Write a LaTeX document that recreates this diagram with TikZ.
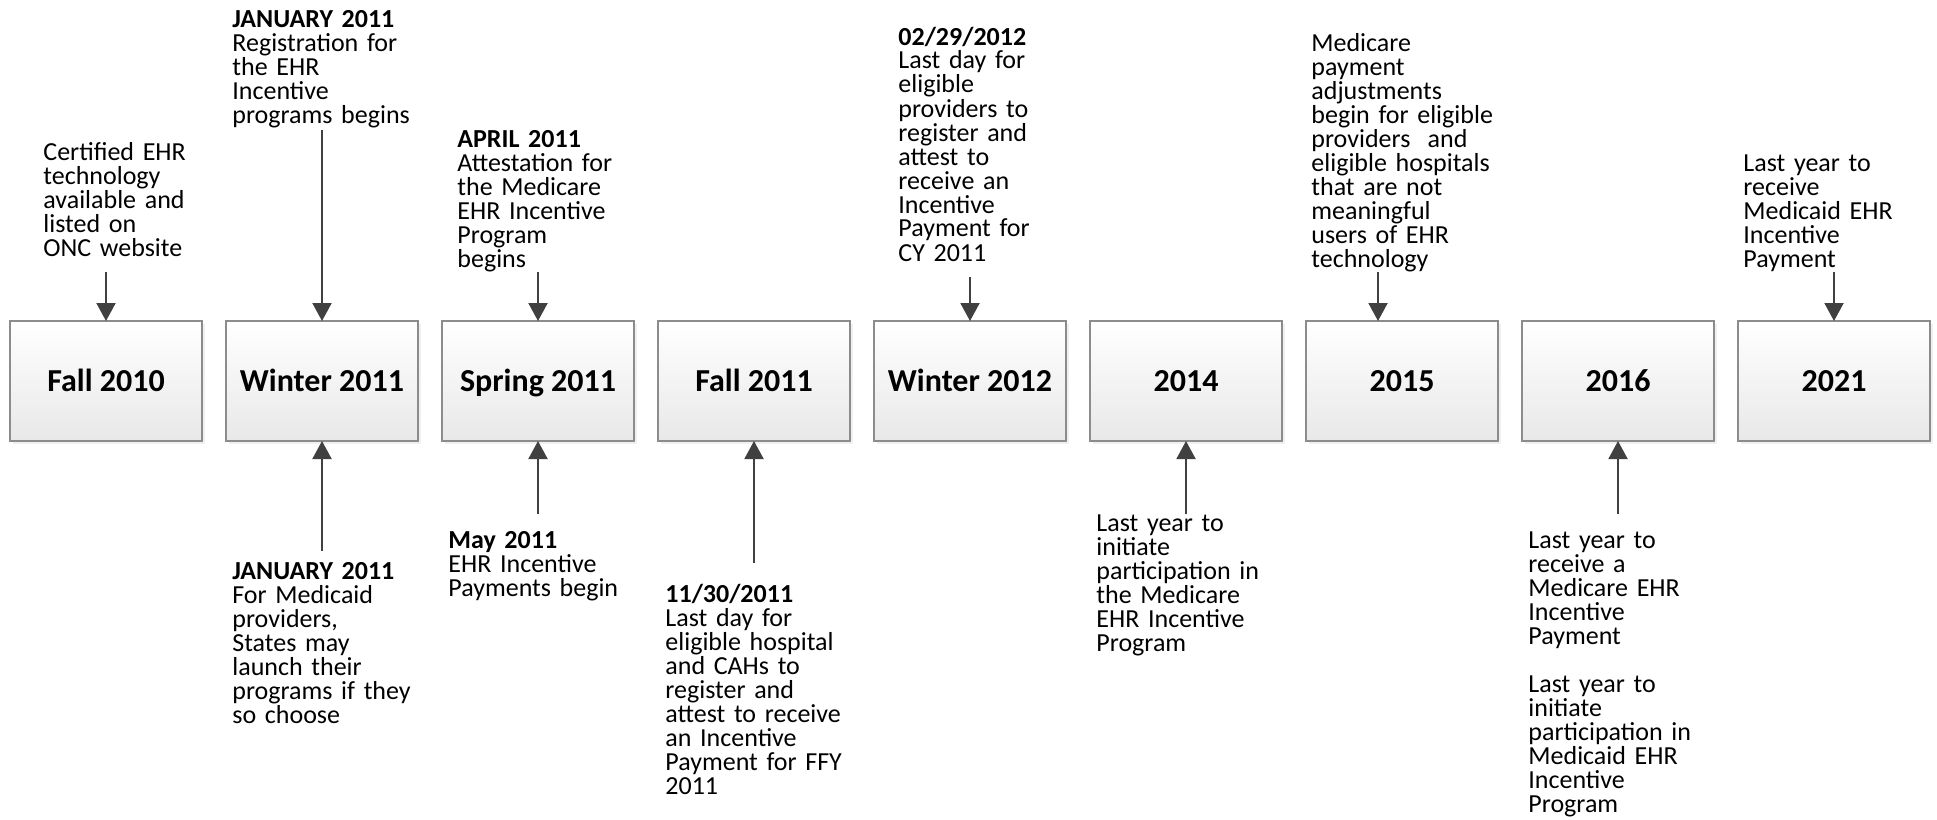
\documentclass[tikz,border=0pt]{standalone}
\usepackage{fontspec}
\setmainfont{Carlito}
\usepackage{tikz}
\usetikzlibrary{positioning,arrows.meta,shadows}
\definecolor{arrowgray}{HTML}{404040}
\definecolor{boxline}{HTML}{8C8C8C}
\newcommand\notefont{\fontsize{13}{12}\selectfont}

\begin{document}
\begin{tikzpicture}[x=0.5pt, y=-0.5pt,
						box/.style={rectangle, draw=boxline, line width=0.8pt, top color=white, bottom color=black!9,
							minimum width=96pt, minimum height=60pt, inner sep=0pt, outer sep=0pt,
							text height=10.3pt, text depth=0pt,
							font=\fontsize{16}{19}\selectfont\bfseries,
							drop shadow={shadow xshift=1.5pt, shadow yshift=-1.5pt, opacity=0.12}},
						note/.style={anchor=base west, inner sep=0pt, text width=110pt, align=left, font=\notefont},
						arr/.style={draw=arrowgray, line width=1pt, -{Triangle[width=9.5pt, length=9pt]}, fill=arrowgray}
					]
					\useasboundingbox (0,0) rectangle (1937,819);
					\node[box] (f10) at (106,381) {Fall 2010};
					\node[box] (w11) [right=12pt of f10] {Winter 2011};
					\node[box] (s11) [right=12pt of w11] {Spring 2011};
					\node[box] (f11) [right=12pt of s11] {Fall 2011};
					\node[box] (w12) [right=12pt of f11] {Winter 2012};
					\node[box] (y14) [right=12pt of w12] {2014};
					\node[box] (y15) [right=12pt of y14] {2015};
					\node[box] (y16) [right=12pt of y15] {2016};
					\node[box] (y21) [right=12pt of y16] {2021};
					% notes above the boxes
					\node[note] (cert) at (43,160) {Certified EHR\\technology\\available and\\listed on\\ONC website};
					\node[note] (reg) at (232,27) {\textbf{JANUARY 2011}\\Registration for\\the EHR\\Incentive\\programs begins};
					\node[note] (att) at (457,147) {\textbf{APRIL 2011}\\Attestation for\\the Medicare\\EHR Incentive\\Program\\begins};
					\node[note] (cy) at (898,45) {\textbf{02/29/2012}\\Last day for\\eligible\\providers to\\register and\\attest to\\receive an\\Incentive\\Payment for\\CY 2011};
					\node[note] (adj) at (1311,51) {Medicare\\payment\\adjustments\\begin for eligible\\providers\ \ and\\eligible hospitals\\that are not\\meaningful\\users of EHR\\technology};
					\node[note] (mcd) at (1743,171) {Last year to\\receive\\Medicaid EHR\\Incentive\\Payment};
					% notes below the boxes
					\node[note] (states) at (232,579) {\textbf{JANUARY 2011}\\For Medicaid\\providers,\\States may\\launch their\\programs if they\\so choose};
					\node[note] (pay) at (448,548) {\textbf{May 2011}\\EHR Incentive\\Payments begin};
					\node[note] (ffy) at (665,602) {\textbf{11/30/2011}\\Last day for\\eligible hospital\\and CAHs to\\register and\\attest to receive\\an Incentive\\Payment for FFY\\2011};
					\node[note] (init) at (1096,531) {Last year to\\initiate\\participation in\\the Medicare\\EHR Incentive\\Program};
					\node[note] (last) at (1528,548) {Last year to\\receive a\\Medicare EHR\\Incentive\\Payment\\[12pt]Last year to\\initiate\\participation in\\Medicaid EHR\\Incentive\\Program};
					% arrow starts
					\coordinate (a1) at (106,272);
					\coordinate (a2) at (322,130);
					\coordinate (a3) at (538,272);
					\coordinate (a4) at (970,277);
					\coordinate (a5) at (1378,272);
					\coordinate (a6) at (1834,272);
					\coordinate (b1) at (322,551);
					\coordinate (b2) at (538,514);
					\coordinate (b3) at (754,563);
					\coordinate (b4) at (1186,514);
					\coordinate (b5) at (1618,514);
					\begin{scope}[arr]
					\draw (a1) -- (f10.north);
					\draw (a2) -- (w11.north);
					\draw (a3) -- (s11.north);
					\draw (a4) -- (w12.north);
					\draw (a5) -- (a5 |- y15.north);
					\draw (a6) -- (y21.north);
					\draw (b1) -- (w11.south);
					\draw (b2) -- (s11.south);
					\draw (b3) -- (f11.south);
					\draw (b4) -- (y14.south);
					\draw (b5) -- (y16.south);
					\end{scope}
					\end{tikzpicture}
\end{document}
